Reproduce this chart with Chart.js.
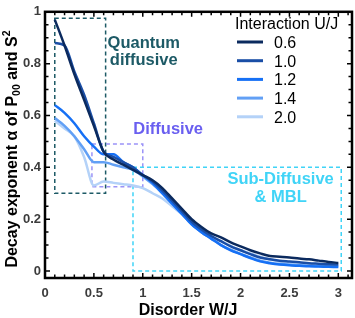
<!DOCTYPE html>
<html>
<head>
<meta charset="utf-8">
<script src="https://cdn.jsdelivr.net/npm/chart.js@4.4.1/dist/chart.umd.min.js"></script>
<style>
  html, body { margin: 0; padding: 0; background: #fff; }
  #wrap { width: 355px; height: 318px; }
</style>
</head>
<body>
<div id="wrap"><canvas id="chart" width="355" height="318"></canvas></div>
<script>
// disorder W/J values (x)
const disorder = [0.1, 0.2, 0.3, 0.4, 0.5, 0.6, 0.7, 0.8, 0.9, 1.0,
                  1.1, 1.2, 1.3, 1.4, 1.5, 1.6, 1.7, 1.8, 1.9, 2.0,
                  2.1, 2.2, 2.3, 2.4, 2.5, 2.6, 2.7, 2.8, 2.9, 3.0];

// decay exponent alpha for each interaction U/J
const u06 = [0.97, 0.87, 0.76, 0.66, 0.56, 0.46, 0.43, 0.41, 0.39, 0.37,
             0.35, 0.32, 0.28, 0.24, 0.20, 0.17, 0.145, 0.13, 0.11, 0.095,
             0.08, 0.068, 0.058, 0.055, 0.052, 0.048, 0.045, 0.04, 0.035, 0.031];
const u10 = [0.88, 0.87, 0.77, 0.68, 0.57, 0.46, 0.44, 0.42, 0.40, 0.37,
             0.345, 0.31, 0.27, 0.23, 0.19, 0.16, 0.135, 0.115, 0.095, 0.08,
             0.065, 0.052, 0.045, 0.04, 0.037, 0.034, 0.03, 0.028, 0.026, 0.025];
const u12 = [0.64, 0.61, 0.57, 0.52, 0.48, 0.45, 0.45, 0.42, 0.40, 0.37,
             0.34, 0.30, 0.26, 0.22, 0.18, 0.15, 0.125, 0.10, 0.08, 0.065,
             0.05, 0.037, 0.03, 0.025, 0.022, 0.02, 0.018, 0.017, 0.016, 0.015];
const u14 = [0.59, 0.56, 0.52, 0.47, 0.42, 0.42, 0.41, 0.40, 0.39, 0.365,
             0.335, 0.30, 0.26, 0.22, 0.18, 0.15, 0.125, 0.10, 0.082, 0.066,
             0.052, 0.04, 0.032, 0.027, 0.024, 0.022, 0.02, 0.019, 0.018, 0.017];
const u20 = [0.58, 0.55, 0.52, 0.44, 0.33, 0.345, 0.34, 0.335, 0.33, 0.32,
             0.30, 0.28, 0.25, 0.22, 0.19, 0.16, 0.135, 0.115, 0.097, 0.08,
             0.068, 0.055, 0.045, 0.037, 0.032, 0.029, 0.027, 0.025, 0.024, 0.023];

const interactionLabels = ['0.6', '1.0', '1.2', '1.4', '2.0'];
const xTicks = [0, 0.5, 1, 1.5, 2, 2.5, 3];
const yTicks = [0, 0.2, 0.4, 0.6, 0.8, 1];

const seriesColors = ['#0b2a5e', '#1a4ea6', '#1670f5', '#62a0f5', '#b4d2f8'];
const series = [u06, u10, u12, u14, u20];

// regime boxes in data units
const regions = [
    { x0: 0.1, x1: 0.62, y0: 0.3, y1: 0.975, color: '#1d5a66',
      text: ['Quantum', 'diffusive'], tx: 1.01, ty: [0.86, 0.795] },
    { x0: 0.48, x1: 1.0, y0: 0.325, y1: 0.49, color: '#9b93f7',
      textColor: '#6a5ff0', text: ['Diffusive'], tx: 1.26, ty: [0.53] },
    { x0: 0.9, x1: 3.03, y0: 0.0, y1: 0.40, color: '#40d4f7',
      text: ['Sub-Diffusive', '& MBL'], tx: 2.41, ty: [0.337, 0.268] }
];

const FONT = '"Liberation Sans", Arial, Helvetica, sans-serif';

const regionPlugin = {
    id: 'regions',
    beforeDatasetsDraw(chart) {
        const { ctx, scales: { x, y } } = chart;
        ctx.save();
        for (const r of regions) {
            ctx.strokeStyle = r.color;
            ctx.lineWidth = 1.5;
            ctx.setLineDash([4, 3]);
            const px0 = x.getPixelForValue(r.x0), px1 = x.getPixelForValue(r.x1);
            const py0 = y.getPixelForValue(r.y0), py1 = y.getPixelForValue(r.y1);
            ctx.strokeRect(px0, py1, px1 - px0, py0 - py1);
            ctx.setLineDash([]);
            ctx.fillStyle = r.textColor || r.color;
            ctx.font = 'bold 16.5px ' + FONT;
            ctx.textAlign = 'center';
            ctx.textBaseline = 'alphabetic';
            r.text.forEach((t, i) => {
                ctx.fillText(t, x.getPixelForValue(r.tx), y.getPixelForValue(r.ty[i]));
            });
        }
        ctx.restore();
    }
};

const framePlugin = {
    id: 'frame',
    afterDatasetsDraw(chart) {
        const { ctx, chartArea: a, scales: { x, y } } = chart;
        ctx.save();
        ctx.strokeStyle = '#000';
        ctx.lineWidth = 1.5;
        // minor + major ticks, pointing inward on all four sides
        for (let i = 0; i <= 31; i++) {
            const v = i / 10;
            const px = x.getPixelForValue(v);
            if (px > a.right) break;
            const len = (i % 5 === 0) ? 5 : 3.5;
            ctx.beginPath();
            ctx.moveTo(px, a.bottom); ctx.lineTo(px, a.bottom - len);
            ctx.moveTo(px, a.top); ctx.lineTo(px, a.top + len);
            ctx.stroke();
        }
        for (let i = 0; i <= 20; i++) {
            const v = i / 20;
            const py = y.getPixelForValue(v);
            const len = (i % 4 === 0) ? 5 : 3.5;
            ctx.beginPath();
            ctx.moveTo(a.left, py); ctx.lineTo(a.left + len, py);
            ctx.moveTo(a.right, py); ctx.lineTo(a.right - len, py);
            ctx.stroke();
        }
        ctx.lineWidth = 2.5;
        ctx.strokeRect(a.left, a.top, a.right - a.left, a.bottom - a.top);
        ctx.restore();
    }
};

const legendPlugin = {
    id: 'customLegend',
    afterDraw(chart) {
        const ctx = chart.ctx;
        ctx.save();
        ctx.fillStyle = '#000';
        ctx.font = '16px ' + FONT;
        ctx.textAlign = 'left';
        ctx.textBaseline = 'alphabetic';
        ctx.fillText('Interaction U/J', 235, 29);
        chart.data.datasets.forEach((ds, i) => {
            const yy = 42 + i * 18.7;
            ctx.strokeStyle = ds.borderColor;
            ctx.lineWidth = 3;
            ctx.beginPath();
            ctx.moveTo(237, yy); ctx.lineTo(263, yy);
            ctx.stroke();
            ctx.fillText(ds.label, 274, yy + 6);
        });
        ctx.restore();
    }
};

const titlesPlugin = {
    id: 'titles',
    afterDraw(chart) {
        const ctx = chart.ctx;
        ctx.save();
        ctx.fillStyle = '#000';
        ctx.font = 'bold 16px ' + FONT;
        ctx.textAlign = 'center';
        ctx.textBaseline = 'alphabetic';
        ctx.fillText('Disorder W/J', 188, 315);

        // y title with sub/superscripts
        const big = 'bold 16px ' + FONT, small = 'bold 10.5px ' + FONT;
        const parts = [
            { t: 'Decay exponent α of P', f: big, dy: 0 },
            { t: '00', f: small, dy: 3 },
            { t: ' and S', f: big, dy: 0 },
            { t: '2', f: small, dy: -7 }
        ];
        let total = 0;
        parts.forEach(p => { ctx.font = p.f; p.w = ctx.measureText(p.t).width; total += p.w; });
        ctx.translate(17, 149);
        ctx.rotate(-Math.PI / 2);
        ctx.textAlign = 'left';
        let cx = -total / 2;
        parts.forEach(p => {
            ctx.font = p.f;
            ctx.fillText(p.t, cx, p.dy);
            cx += p.w;
        });
        ctx.restore();
    }
};

const tickFont = { family: FONT, size: 13, weight: 'bold' };

new Chart(document.getElementById('chart'), {
    type: 'line',
    data: {
        datasets: series.map((s, i) => ({
            label: interactionLabels[i],
            data: s.map((v, j) => ({ x: disorder[j], y: v })),
            borderColor: seriesColors[i],
            backgroundColor: seriesColors[i],
            borderWidth: 2.5,
            pointRadius: 0,
            cubicInterpolationMode: 'monotone',
            fill: false
        }))
    },
    options: {
        responsive: false,
        animation: false,
        layout: { padding: { top: 6, right: 3, left: 0, bottom: 0 } },
        plugins: {
            legend: { display: false },
            tooltip: { enabled: false }
        },
        scales: {
            x: {
                type: 'linear',
                min: 0,
                max: 3.14,
                afterBuildTicks: s => { s.ticks = xTicks.map(v => ({ value: v })); },
                afterFit: s => { s.height = 40; },
                ticks: {
                    font: tickFont,
                    color: '#3c3c3c',
                    padding: 8,
                    maxRotation: 0,
                    callback: v => String(v)
                },
                grid: { display: false, drawTicks: false },
                border: { display: false }
            },
            y: {
                min: -0.027,
                max: 1.0,
                afterBuildTicks: s => { s.ticks = yTicks.map(v => ({ value: v })); },
                afterFit: s => { s.width = 45; },
                ticks: {
                    font: tickFont,
                    color: '#3c3c3c',
                    padding: 4,
                    callback: v => String(v)
                },
                grid: { display: false, drawTicks: false },
                border: { display: false }
            }
        }
    },
    plugins: [regionPlugin, framePlugin, legendPlugin, titlesPlugin]
});
</script>
</body>
</html>
